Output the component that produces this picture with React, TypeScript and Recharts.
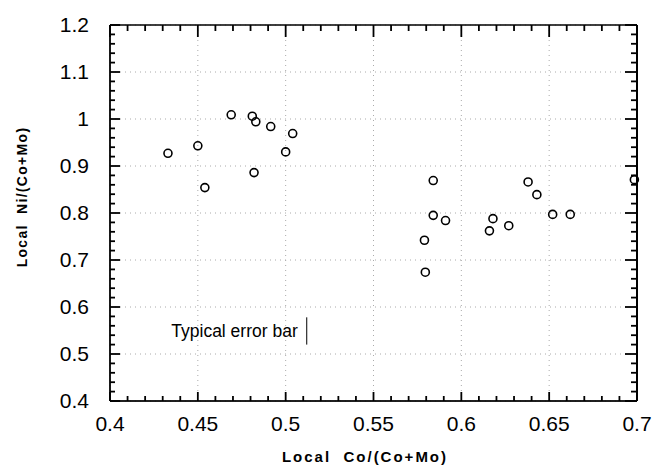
import { ScatterChart, Scatter, XAxis, YAxis, CartesianGrid, ReferenceLine } from 'recharts';

// Local Co/(Co+Mo) vs local Ni/(Co+Mo), one point per measurement
const coRatio = [
  0.433, 0.45, 0.454, 0.469, 0.481, 0.483, 0.482, 0.4915, 0.5, 0.504,
  0.579, 0.5795, 0.584, 0.584, 0.591, 0.616, 0.618, 0.627, 0.638, 0.643,
  0.652, 0.662, 0.6985,
];
const niRatio = [
  0.927, 0.943, 0.854, 1.009, 1.006, 0.994, 0.886, 0.984, 0.93, 0.969,
  0.742, 0.674, 0.869, 0.795, 0.784, 0.762, 0.788, 0.773, 0.866, 0.839,
  0.797, 0.797, 0.871,
];

const xTicks = [0.4, 0.45, 0.5, 0.55, 0.6, 0.65, 0.7];
const yTicks = [0.4, 0.5, 0.6, 0.7, 0.8, 0.9, 1, 1.1, 1.2];

const steps = (from: number, to: number, step: number) => {
  const out: number[] = [];
  for (let v = from; v <= to + 1e-9; v += step) out.push(Math.round(v * 1000) / 1000);
  return out;
};
// every minor step, majors included (minor ones get no label)
const xAllTicks = steps(0.4, 0.7, 0.01);
const yAllTicks = steps(0.4, 1.2, 0.02);

const errorBarX = 0.512;
const errorBarLow = 0.52;
const errorBarHigh = 0.578;
const errorBarText = 'Typical error bar';

const points = coRatio.map((x, i) => ({ x, y: niRatio[i] }));

const FONT = '"Liberation Sans", Arial, Helvetica, sans-serif';
const X_MIN = 0.4, X_MAX = 0.7, Y_MIN = 0.4, Y_MAX = 1.2;

const W = 654, H = 468;
const MARGIN = { top: 25, right: 17, left: 0, bottom: 0 };
const PLOT_TOP = MARGIN.top;
const PLOT_RIGHT = W - MARGIN.right;
const X_TICK_MARGIN = 15;
const Y_TICK_MARGIN = 21;
const TICK_W = 1.8;

const isMajor = (list: number[], v: number) => list.some((t) => Math.abs(t - v) < 1e-6);

const OpenCircle = (props: any) => {
  if (props.cx == null || props.cy == null) return null;
  return <circle cx={props.cx} cy={props.cy} r={4} fill="none" stroke="#000" strokeWidth={1.6} />;
};

// bottom ticks (inward) + mirrored ticks on the top frame
const XTick = (props: any) => {
  const { x, y, payload } = props;
  const major = isMajor(xTicks, payload.value);
  const axisY = y - X_TICK_MARGIN;
  return (
    <g>
      <line x1={x} x2={x} y1={axisY} y2={axisY - (major ? 9 : 5)} stroke="#000" strokeWidth={TICK_W} />
      <line x1={x} x2={x} y1={PLOT_TOP} y2={PLOT_TOP + (major ? 12 : 6)} stroke="#000" strokeWidth={TICK_W} />
      {major && (
        <text x={x} y={y} dy="0.71em" textAnchor="middle" fontSize={21} fill="#000" fontFamily={FONT}>
          {String(payload.value)}
        </text>
      )}
    </g>
  );
};

// left ticks (inward) + mirrored ticks on the right frame
const YTick = (props: any) => {
  const { x, y, payload } = props;
  const major = isMajor(yTicks, payload.value);
  const axisX = x + Y_TICK_MARGIN;
  return (
    <g>
      <line x1={axisX} x2={axisX + (major ? 10 : 5)} y1={y} y2={y} stroke="#000" strokeWidth={TICK_W} />
      <line x1={PLOT_RIGHT} x2={PLOT_RIGHT - (major ? 12 : 6)} y1={y} y2={y} stroke="#000" strokeWidth={TICK_W} />
      {major && (
        <text x={x} y={y} dy="0.355em" textAnchor="end" fontSize={21} fill="#000" fontFamily={FONT}>
          {String(payload.value)}
        </text>
      )}
    </g>
  );
};

export default function App() {
  return (
    <div style={{ position: 'absolute', left: 0, top: 0, width: W, height: H, background: '#fff' }}>
      <ScatterChart width={W} height={H} margin={MARGIN}>
        <CartesianGrid stroke="#aaa" strokeDasharray="1 4" verticalValues={xTicks} horizontalValues={yTicks} />

        <XAxis
          type="number"
          dataKey="x"
          domain={[X_MIN, X_MAX]}
          ticks={xAllTicks}
          interval={0}
          height={67}
          tick={<XTick />}
          tickLine={false}
          tickSize={0}
          tickMargin={X_TICK_MARGIN}
          stroke="#000"
          label={{
            content: () => (
              <text
                x={365}
                y={462}
                textAnchor="middle"
                fontFamily={FONT}
                fontSize={15}
                fontWeight="bold"
                letterSpacing={2}
                style={{ whiteSpace: 'pre' }}
              >
                {'Local  Co/(Co+Mo)'}
              </text>
            ),
          }}
        />
        <YAxis
          type="number"
          dataKey="y"
          domain={[Y_MIN, Y_MAX]}
          ticks={yAllTicks}
          interval={0}
          width={110}
          tick={<YTick />}
          tickLine={false}
          tickSize={0}
          tickMargin={Y_TICK_MARGIN}
          stroke="#000"
          label={{
            content: () => (
              <text
                x={27}
                y={197}
                textAnchor="middle"
                transform="rotate(-90, 27, 197)"
                fontFamily={FONT}
                fontSize={14}
                fontWeight="bold"
                letterSpacing={1.3}
                style={{ whiteSpace: 'pre' }}
              >
                {'Local  Ni/(Co+Mo)'}
              </text>
            ),
          }}
        />

        {/* frame */}
        <ReferenceLine x={X_MIN} stroke="#000" strokeWidth={1.6} />
        <ReferenceLine x={X_MAX} stroke="#000" strokeWidth={2} />
        <ReferenceLine y={Y_MIN} stroke="#000" strokeWidth={1.4} />
        <ReferenceLine y={Y_MAX} stroke="#000" strokeWidth={1.6} />

        <ReferenceLine
          segment={[
            { x: errorBarX, y: errorBarLow },
            { x: errorBarX, y: errorBarHigh },
          ]}
          stroke="#000"
          strokeWidth={1}
          label={{
            value: errorBarText,
            position: 'left',
            offset: 9,
            fontSize: 17.5,
            fill: '#000',
            fontFamily: FONT,
          }}
        />

        <Scatter data={points} shape={<OpenCircle />} isAnimationActive={false} />
      </ScatterChart>
    </div>
  );
}
